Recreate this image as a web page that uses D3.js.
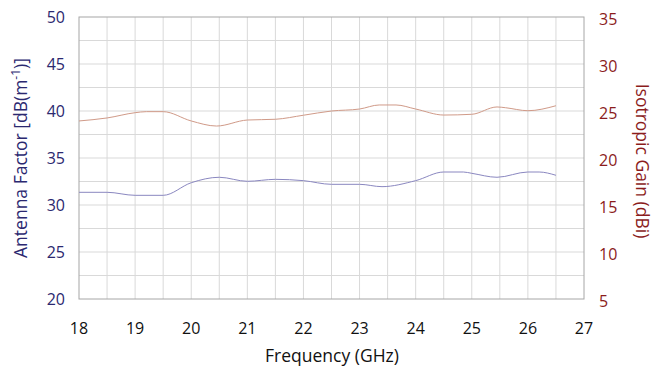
<!DOCTYPE html>
<html>
<head>
<meta charset="utf-8">
<script src="https://cdn.jsdelivr.net/npm/d3@7"></script>
<style>
  body { margin: 0; background: #fff; }
  text { font-family: "Open Sans", "Noto Sans", sans-serif; }
</style>
</head>
<body>
<svg width="663" height="373"></svg>
<script>
// frequency ticks (GHz)
let freqTicks = [18, 19, 20, 21, 22, 23, 24, 25, 26, 27];
let afTicks = [20, 25, 30, 35, 40, 45, 50];
let gainTicks = [5, 10, 15, 20, 25, 30, 35];

// antenna factor, dB(1/m)
let afFreq = [18.0, 18.5, 19.0, 19.5, 20.0, 20.5, 21.0, 21.5, 22.0, 22.5, 23.0, 23.4, 24.0, 24.5, 24.85, 25.0, 25.45, 26.0, 26.2, 26.5];
let afVals = [31.35, 31.35, 31.03, 31.03, 32.37, 32.95, 32.52, 32.73, 32.59, 32.2, 32.2, 31.95, 32.59, 33.51, 33.51, 33.37, 32.95, 33.51, 33.51, 33.16];

// isotropic gain, dBi
let gainFreq = [18.0, 18.5, 19.0, 19.2, 19.5, 20.0, 20.45, 21.0, 21.5, 22.0, 22.5, 23.0, 23.35, 23.65, 24.0, 24.5, 25.0, 25.45, 25.6, 26.0, 26.5];
let gainVals = [23.94, 24.26, 24.82, 24.93, 24.93, 23.94, 23.4, 24.04, 24.12, 24.55, 25.0, 25.21, 25.64, 25.64, 25.21, 24.57, 24.65, 25.43, 25.35, 25.03, 25.56];

let svg = d3.select("svg");
let pLeft = 79, pRight = 584, pTop = 17, pBottom = 299;

let x = d3.scaleLinear().domain([18, 27]).range([pLeft, pRight]);
let yL = d3.scaleLinear().domain([20, 50]).range([pBottom, pTop]);
let yR = d3.scaleLinear().domain([5, 35]).range([pBottom, pTop]);

// grid
let g = svg.append("g");
g.selectAll("line.v")
    .data(d3.range(18.5, 27, 0.5))
    .enter().append("line")
    .attr("x1", d => x(d)).attr("x2", d => x(d))
    .attr("y1", pTop).attr("y2", pBottom)
    .attr("stroke", "#d9d9d9").attr("stroke-width", 1);
g.selectAll("line.h")
    .data(d3.range(22.5, 50, 2.5))
    .enter().append("line")
    .attr("y1", d => yL(d)).attr("y2", d => yL(d))
    .attr("x1", pLeft).attr("x2", pRight)
    .attr("stroke", "#d9d9d9").attr("stroke-width", 1);

svg.append("rect")
    .attr("x", pLeft).attr("y", pTop)
    .attr("width", pRight - pLeft).attr("height", pBottom - pTop)
    .attr("fill", "none").attr("stroke", "#a6a6a6").attr("stroke-width", 1);

// lines
let afLine = d3.line().x((d, i) => x(afFreq[i])).y(d => yL(d)).curve(d3.curveMonotoneX);
let gainLine = d3.line().x((d, i) => x(gainFreq[i])).y(d => yR(d)).curve(d3.curveMonotoneX);

svg.append("path").attr("d", gainLine(gainVals))
    .attr("fill", "none").attr("stroke", "#d09a88").attr("stroke-width", 1);
svg.append("path").attr("d", afLine(afVals))
    .attr("fill", "none").attr("stroke", "#8a87c0").attr("stroke-width", 1);

// tick labels
svg.append("g").selectAll("text")
    .data(afTicks).enter().append("text")
    .attr("x", 65).attr("y", d => yL(d)).attr("dy", "0.36em")
    .attr("text-anchor", "end").attr("font-size", 16).attr("fill", "#2b2870")
    .text(d => d);

svg.append("g").selectAll("text")
    .data(gainTicks).enter().append("text")
    .attr("x", 599).attr("y", d => yR(d) + 2).attr("dy", "0.36em")
    .attr("text-anchor", "start").attr("font-size", 16).attr("fill", "#8b1c1c")
    .text(d => d);

svg.append("g").selectAll("text")
    .data(freqTicks).enter().append("text")
    .attr("x", d => x(d)).attr("y", 328).attr("dy", "0.36em")
    .attr("text-anchor", "middle").attr("font-size", 16).attr("fill", "#111")
    .text(d => d);

// axis titles
svg.append("text")
    .attr("x", 332).attr("y", 362)
    .attr("text-anchor", "middle").attr("font-size", 17.5).attr("fill", "#111")
    .text("Frequency (GHz)");

let lt = svg.append("text")
    .attr("transform", "translate(27," + ((pTop + pBottom) / 2) + ") rotate(-90)")
    .attr("text-anchor", "middle").attr("font-size", 17.5).attr("fill", "#2b2870");
lt.append("tspan").text("Antenna Factor [dB(m");
lt.append("tspan").attr("font-size", 12).attr("dy", -7).text("-1");
lt.append("tspan").attr("dy", 7).text(")]");

svg.append("text")
    .attr("transform", "translate(636," + ((pTop + pBottom) / 2 + 3) + ") rotate(90)")
    .attr("text-anchor", "middle").attr("font-size", 17.5).attr("fill", "#8b1c1c")
    .text("Isotropic Gain (dBi)");
</script>
</body>
</html>
